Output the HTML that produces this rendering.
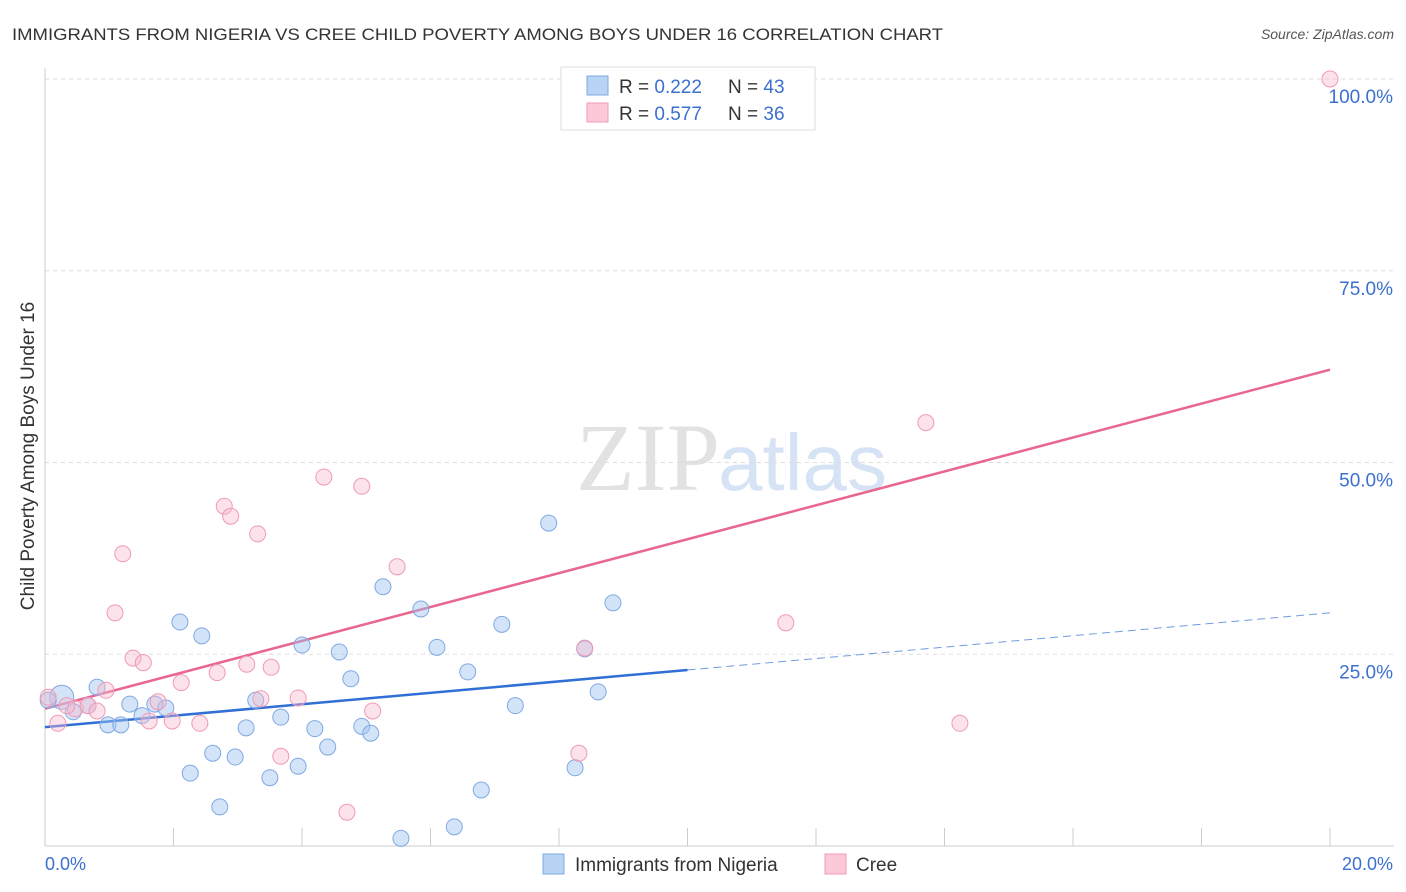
<!DOCTYPE html>
<html><head><meta charset="utf-8"><style>
body{margin:0;background:#fff;font-family:"Liberation Sans",sans-serif}
svg{display:block}
</style></head><body>
<svg id="chart" width="1406" height="892">
<text x="12" y="40" font-size="17" fill="#333" textLength="931" lengthAdjust="spacingAndGlyphs">IMMIGRANTS FROM NIGERIA VS CREE CHILD POVERTY AMONG BOYS UNDER 16 CORRELATION CHART</text>
<text x="1394" y="39" font-size="14" fill="#555" font-style="italic" text-anchor="end">Source: ZipAtlas.com</text>
<text x="720" y="490" font-size="96" fill="#e2e2e2" text-anchor="end" font-family="Liberation Serif,serif">ZIP</text>
<text x="718" y="490" font-size="80" fill="#d6e3f5">atlas</text>
<text transform="translate(34,456) rotate(-90)" font-size="19" fill="#333" text-anchor="middle">Child Poverty Among Boys Under 16</text>
<g id="grid"></g><g id="ticks"></g><g id="lines"></g><g id="points"></g>
<g>
<rect x="561" y="67" width="254" height="63" fill="#fff" stroke="#ddd"/>
<rect x="587" y="76" width="21" height="19" fill="#b9d3f5" stroke="#7fa9e3"/>
<rect x="587" y="103" width="21" height="19" fill="#fbc9d8" stroke="#f09ab5"/>
<text x="619" y="93" font-size="19" fill="#333">R = <tspan fill="#3b6fd0">0.222</tspan><tspan x="728">N = </tspan><tspan fill="#3b6fd0">43</tspan></text>
<text x="619" y="120" font-size="19" fill="#333">R = <tspan fill="#3b6fd0">0.577</tspan><tspan x="728">N = </tspan><tspan fill="#3b6fd0">36</tspan></text>
</g>
<g>
<rect x="543" y="854" width="21" height="20" fill="#b9d3f5" stroke="#7fa9e3"/>
<text x="575" y="871" font-size="19" fill="#333">Immigrants from Nigeria</text>
<rect x="825" y="854" width="21" height="20" fill="#fbc9d8" stroke="#f09ab5"/>
<text x="856" y="871" font-size="19" fill="#333">Cree</text>
</g>
</svg>
<script>
const nigX=[0.26,0.05,0.44,0.81,0.98,1.18,1.32,1.51,1.71,1.88,2.10,2.26,2.44,2.61,2.72,2.96,3.13,3.28,3.50,3.67,3.94,4.00,4.20,4.40,4.58,4.76,4.93,5.07,5.26,5.54,5.85,6.10,6.37,6.58,6.79,7.11,7.32,7.84,8.25,8.40,8.61,8.84,0.67];
const nigY=[19.4,19.0,17.5,20.7,15.8,15.8,18.5,17.0,18.5,18.0,29.2,9.5,27.4,12.1,5.1,11.6,15.4,19.0,8.9,16.8,10.4,26.2,15.3,12.9,25.3,21.8,15.6,14.7,33.8,1.0,30.9,25.9,2.5,22.7,7.3,28.9,18.3,42.1,10.2,25.7,20.1,31.7,18.3];
const creeX=[0.05,0.20,0.47,0.67,0.81,0.95,1.09,1.21,1.37,1.53,1.62,1.76,1.98,2.12,2.41,2.68,2.79,2.89,3.14,3.31,3.36,3.52,3.67,3.94,4.34,4.70,4.93,5.10,5.48,8.31,8.40,11.53,13.71,14.24,20.0,0.34];
const creeY=[19.4,16.0,17.9,18.3,17.6,20.3,30.4,38.1,24.5,23.9,16.3,18.8,16.3,21.3,16.0,22.6,44.3,43.0,23.7,40.7,19.2,23.3,11.7,19.3,48.1,4.4,46.9,17.6,36.4,12.1,25.8,29.1,55.2,16.0,100,18.3];
const nigLine=[15.5,0.745];
const creeLine=[17.9,2.21];
const yTicks=[25,50,75,100];
const yTickLabels=["25.0%","50.0%","75.0%","100.0%"];
const xTicks=[0,2,4,6,8,10,12,14,16,18,20];
const NS="http://www.w3.org/2000/svg";
const sx=v=>45+v/20*1285, sy=v=>846-v/100*767;
function mk(t,a,p){const e=document.createElementNS(NS,t);for(const k in a)e.setAttribute(k,a[k]);document.getElementById(p).appendChild(e);return e;}
yTicks.forEach((v,i)=>{
 const l=mk('line',{x1:45,x2:1394,y1:sy(v),y2:sy(v),stroke:'#ddd','stroke-dasharray':'4,4'},'grid');
 
 
 const t=mk('text',{x:1393,y:sy(v)+24,'font-size':19,fill:'#3b6fd0','text-anchor':'end'},'grid');t.textContent=yTickLabels[i];
 
 
});
mk('line',{x1:45,x2:45,y1:68,y2:846,stroke:'#ccc'},'ticks');
mk('line',{x1:45,x2:1394,y1:846,y2:846,stroke:'#ccc'},'ticks');
xTicks.forEach(v=>{const l=mk('line',{x1:sx(v),x2:sx(v),y1:828,y2:846,stroke:'#ccc'},'ticks');
 
 });
let t=mk('text',{x:45,y:870,'font-size':18,fill:'#3b6fd0'},'ticks');t.textContent='0.0%';


t=mk('text',{x:1393,y:870,'font-size':18,fill:'#3b6fd0','text-anchor':'end'},'ticks');t.textContent='20.0%';


function pts(X,Y,fill,stroke,name){X.forEach((x,i)=>{const c=mk('circle',{cx:sx(x),cy:sy(Y[i]),r:(name==='nigeria-point'&&i===0)?12:8,fill:fill,stroke:stroke,'stroke-width':1},'points');
 
 });}
pts(nigX,nigY,'rgba(160,196,240,0.45)','#7fa9e3','nigeria-point');
pts(creeX,creeY,'rgba(248,185,205,0.4)','#f09ab5','cree-point');
let l=mk('line',{x1:sx(0),y1:sy(nigLine[0]),x2:sx(10),y2:sy(nigLine[0]+nigLine[1]*10),stroke:'#2f6fd6','stroke-width':2.5},'lines');


l=mk('line',{x1:sx(10),y1:sy(nigLine[0]+nigLine[1]*10),x2:sx(20),y2:sy(nigLine[0]+nigLine[1]*20),stroke:'#6f9be0','stroke-width':1,'stroke-dasharray':'8,5'},'lines');


l=mk('line',{x1:sx(0),y1:sy(creeLine[0]),x2:sx(20),y2:sy(creeLine[0]+creeLine[1]*20),stroke:'#e8668f','stroke-width':2.5},'lines');


</script>
</body></html>
